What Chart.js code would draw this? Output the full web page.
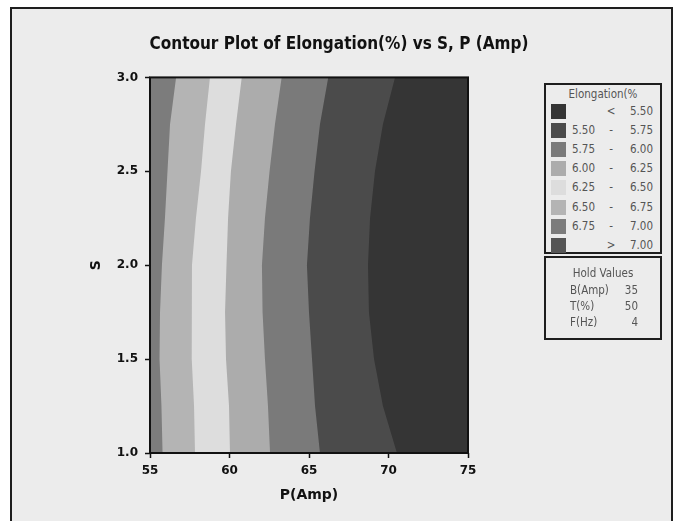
<!DOCTYPE html>
<html>
<head>
<meta charset="utf-8">
<script src="https://cdn.jsdelivr.net/npm/chart.js@4"></script>
<style>
  html, body { margin: 0; padding: 0; background: #fff; }
  #page { position: relative; width: 678px; height: 521px; overflow: hidden; background: #fff; }
  #frame { position: absolute; left: 10px; top: 7px; width: 659px; height: 530px;
    border: 2px solid #1e1e1e; background: #ececec; }
  #chart { position: absolute; left: 0; top: 0; }
  .box { position: absolute; border: 2px solid #1e1e1e; background: #ececec;
    font-family: "DejaVu Sans Condensed", "Liberation Sans", sans-serif; font-size: 11.5px; color: #555; }
  .box div { position: absolute; white-space: nowrap; line-height: 14px; }
</style>
</head>
<body>
<div id="page">
  <div id="frame"></div>
  <canvas id="chart" width="678" height="521"></canvas>
  <div class="box" id="legendBox" style="left:544px; top:83px; width:114px; height:167px;"></div>
  <div class="box" id="holdBox" style="left:544px; top:256px; width:114px; height:80px;"></div>
</div>
<script>
// S values (top to bottom) where the contour lines were read
const sValues = [3.0, 2.75, 2.5, 2.25, 2.0, 1.75, 1.5, 1.25, 1.0]

// P (Amp) position of each contour line at those S values
const p675 = [56.64, 56.26, 56.10, 55.94, 55.75, 55.63, 55.60, 55.72, 55.79]
const p650 = [58.77, 58.46, 58.21, 57.89, 57.64, 57.61, 57.64, 57.77, 57.83]
const p625 = [60.77, 60.41, 60.09, 59.91, 59.81, 59.72, 59.78, 59.97, 60.03]
const p600 = [63.28, 62.86, 62.52, 62.23, 62.04, 62.08, 62.23, 62.42, 62.55]
const p575 = [66.21, 65.69, 65.35, 65.06, 64.87, 65.00, 65.19, 65.38, 65.69]
const p550 = [70.41, 69.65, 69.15, 68.84, 68.71, 68.77, 69.09, 69.65, 70.53]

const pRange = [55, 75]
const sRange = [1.0, 3.0]
const xTicks = [55, 60, 65, 70, 75]
const yTicks = [1.0, 1.5, 2.0, 2.5, 3.0]

// legend classes, from low to high
const legendLow = ['', '5.50', '5.75', '6.00', '6.25', '6.50', '6.75', '']
const legendHigh = ['5.50', '5.75', '6.00', '6.25', '6.50', '6.75', '7.00', '7.00']
const legendSign = ['<', '-', '-', '-', '-', '-', '-', '>']
const legendColors = ['#353535', '#4b4b4b', '#7a7a7a', '#acacac', '#dddddd', '#b4b4b4', '#7c7c7c', '#555555']

const holdNames = ['B(Amp)', 'T(%)', 'F(Hz)']
const holdValues = [35, 50, 4]

const toPoints = (arr) => arr.map((p, i) => ({ x: p, y: sValues[i] }))

// each contour is filled back to P = 55 with the colour of the band on its left
const band = (arr, color) => ({
  data: toPoints(arr),
  backgroundColor: color,
  borderWidth: 0,
  pointRadius: 0,
  tension: 0,
  fill: { value: pRange[0] },
})

const datasets = [
  band(p675, legendColors[6]),
  band(p650, legendColors[5]),
  band(p625, legendColors[4]),
  band(p600, legendColors[3]),
  band(p575, legendColors[2]),
  band(p550, legendColors[1]),
  band([pRange[1], pRange[1]], legendColors[0]),
]
datasets[6].data = [{ x: pRange[1], y: sRange[1] }, { x: pRange[1], y: sRange[0] }]

const frameBox = {
  id: 'frameBox',
  afterDatasetsDraw(chart) {
    const { ctx, chartArea: a } = chart
    ctx.save()
    ctx.strokeStyle = '#111'
    ctx.lineWidth = 2
    ctx.strokeRect(a.left, a.top, a.right - a.left, a.bottom - a.top)
    ctx.restore()
  }
}

const tickFont = { family: 'DejaVu Sans', size: 12, weight: 'bold' }

new Chart(document.getElementById('chart'), {
  type: 'line',
  data: { datasets },
  plugins: [frameBox],
  options: {
    responsive: false,
    animation: false,
    indexAxis: 'y',
    layout: { padding: 0 },
    plugins: {
      legend: { display: false },
      tooltip: { enabled: false },
      title: {
        display: true,
        text: 'Contour Plot of Elongation(%) vs S, P (Amp)',
        color: '#111',
        font: { family: 'DejaVu Sans Condensed', size: 17, weight: 'bold' },
        padding: { top: 34, bottom: 23 },
      },
    },
    scales: {
      x: {
        type: 'linear',
        min: pRange[0],
        max: pRange[1],
        afterBuildTicks: (s) => { s.ticks = xTicks.map(v => ({ value: v })) },
        ticks: { color: '#111', font: tickFont, padding: 6, maxRotation: 0 },
        grid: { drawOnChartArea: false, drawTicks: true, tickLength: 5, tickColor: '#111', tickWidth: 1.5 },
        border: { display: false },
        title: { display: true, text: 'P(Amp)', color: '#111',
          font: { family: 'DejaVu Sans', size: 14, weight: 'bold' }, padding: { top: 0, bottom: 17 } },
        afterFit: (s) => { s.height = 68 },
      },
      y: {
        type: 'linear',
        min: sRange[0],
        max: sRange[1],
        afterBuildTicks: (s) => { s.ticks = yTicks.map(v => ({ value: v })) },
        ticks: { color: '#111', font: tickFont, padding: 7, callback: (v) => Number(v).toFixed(1) },
        grid: { drawOnChartArea: false, drawTicks: true, tickLength: 5, tickColor: '#111', tickWidth: 1.5 },
        border: { display: false },
        title: { display: true, text: 'S', color: '#111',
          font: { family: 'DejaVu Sans', size: 14, weight: 'bold' }, padding: { top: 88, bottom: 0 } },
        afterFit: (s) => { s.width = 150 },
      },
      side: {
        type: 'linear',
        position: 'right',
        display: true,
        ticks: { display: false },
        grid: { display: false },
        border: { display: false },
        afterFit: (s) => { s.width = 678 - 468 },
      },
    },
  },
})

// legend boxes drawn as html text
const legendBox = document.getElementById('legendBox')
let html = '<div style="left:0;width:114px;text-align:center;top:2px;overflow:hidden;">Elongation(%</div>'
legendColors.forEach((c, i) => {
  const top = 19 + i * 19.1
  html += `<div style="left:5px;top:${top}px;width:15px;height:15px;background:${c};"></div>`
  html += `<div style="left:26px;top:${top}px;">${legendLow[i]}</div>`
  html += `<div style="left:60px;width:10px;text-align:center;top:${top}px;">${legendSign[i]}</div>`
  html += `<div style="left:84px;top:${top}px;">${legendHigh[i]}</div>`
})
legendBox.innerHTML = html

const holdBox = document.getElementById('holdBox')
let hold = '<div style="left:0;width:114px;text-align:center;top:8px;">Hold Values</div>'
holdNames.forEach((n, i) => {
  const top = 25 + i * 16
  hold += `<div style="left:24px;top:${top}px;">${n}</div>`
  hold += `<div style="right:22px;top:${top}px;">${holdValues[i]}</div>`
})
holdBox.innerHTML = hold
</script>
</body>
</html>
